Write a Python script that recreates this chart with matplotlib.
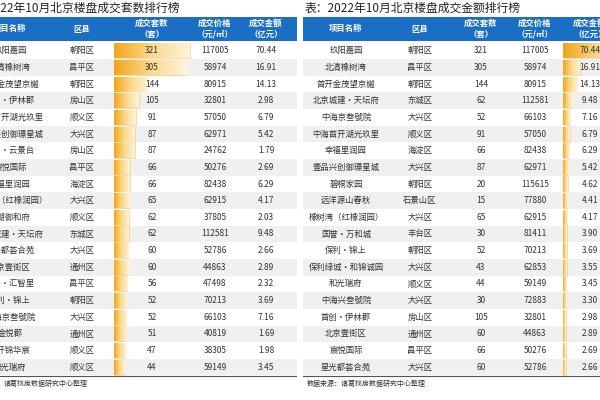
import matplotlib
matplotlib.use("Agg")
import matplotlib.pyplot as plt
import numpy as np

plt.rcParams["font.family"] = "Noto Sans CJK SC"

# Left table: ranking by units
l_names = ["玖阳嘉园", "北清橡树湾", "首开金茂望京樾", "首创·伊林郡", "中海首开湖光玖里", "壹品兴创御璟星城",
           "首创·云景台", "宸悦国际", "幸福里润园", "橡树湾（红橡润园）", "龙湖御和府", "北京城建·天坛府",
           "星光都荟合苑", "北京壹街区", "首开·汇智里", "保利·锦上", "中海京叁號院", "金悦郡", "首开锦华宸", "和光瑞府"]
l_dist = ["朝阳区", "昌平区", "朝阳区", "房山区", "顺义区", "大兴区", "房山区", "昌平区", "海淀区", "大兴区",
          "顺义区", "东城区", "大兴区", "通州区", "昌平区", "朝阳区", "大兴区", "通州区", "顺义区", "顺义区"]
l_units = [321, 305, 144, 105, 91, 87, 87, 66, 66, 65, 62, 62, 60, 60, 56, 52, 52, 51, 47, 44]
l_price = [117005, 58974, 80915, 32801, 57050, 62971, 24762, 50276, 82438, 62915, 37805, 112581,
           52786, 44863, 47498, 70213, 66103, 40819, 38305, 59149]
l_amount = [70.44, 16.91, 14.13, 2.98, 6.79, 5.42, 1.79, 2.69, 6.29, 4.17, 2.03, 9.48,
            2.66, 2.89, 2.32, 3.69, 7.16, 1.69, 1.98, 3.45]

# Right table: ranking by amount
r_names = ["玖阳嘉园", "北清橡树湾", "首开金茂望京樾", "北京城建·天坛府", "中海京叁號院", "中海首开湖光玖里",
           "幸福里润园", "壹品兴创御璟星城", "碧桐家园", "远洋源山春秋", "橡树湾（红橡润园）", "国誉·万和城",
           "保利·锦上", "保利绿城·和锦诚园", "和光瑞府", "中海兴叁號院", "首创·伊林郡", "北京壹街区",
           "宸悦国际", "星光都荟合苑"]
r_dist = ["朝阳区", "昌平区", "朝阳区", "东城区", "大兴区", "顺义区", "海淀区", "大兴区", "朝阳区", "石景山区",
          "大兴区", "丰台区", "朝阳区", "大兴区", "顺义区", "大兴区", "房山区", "通州区", "昌平区", "大兴区"]
r_units = [321, 305, 144, 62, 52, 91, 66, 87, 20, 15, 65, 30, 52, 43, 44, 30, 105, 60, 66, 60]
r_price = [117005, 58974, 80915, 112581, 66103, 57050, 82438, 62971, 115615, 77880, 62915, 81411,
           70213, 62853, 59149, 72883, 32801, 44863, 50276, 52786]
r_amount = [70.44, 16.91, 14.13, 9.48, 7.16, 6.79, 6.29, 5.42, 4.62, 4.41, 4.17, 3.90,
            3.69, 3.55, 3.45, 3.30, 2.98, 2.89, 2.69, 2.66]

headers = ["项目名称", "区县", "成交套数\n（套）", "成交价格\n（元/㎡）", "成交金额\n（亿元）"]

fig = plt.figure(figsize=(6, 4), dpi=100)
ax = fig.add_axes([0, 0, 1, 1])
ax.set_xlim(0, 600)
ax.set_ylim(400, 0)
ax.axis("off")

BLUE = "#1a6fc4"
ROW_Y0, ROW_H = 42.5, 16.65
cmap = matplotlib.colors.LinearSegmentedColormap.from_list("g", ["#f2a51a", "#fbd98c", "#fff3da"])
grad = np.linspace(0, 1, 256).reshape(1, -1)


def table(x0, x1, colx, bar_left, bar_scale, bar_col, names, dist, units, price, amount, title, source):
    clip = matplotlib.patches.Rectangle((x0, 0), x1 - x0, 400, transform=ax.transData)
    arts = []
    arts.append(ax.text(x0 + 2, 8, title, fontsize=8.5, va="center", ha="left", color="#222"))
    arts.append(ax.add_patch(matplotlib.patches.Rectangle((x0, 17), x1 - x0, 24, color=BLUE, lw=0)))
    for h, cx in zip(headers, colx):
        arts.append(ax.text(cx, 29, h, fontsize=6, color="white", ha="center", va="center",
                            weight="bold", linespacing=1.2))
    vals = units if bar_col == 2 else amount
    for i in range(len(names)):
        yc = ROW_Y0 + ROW_H * (i + 0.5)
        if i % 2 == 1:
            arts.append(ax.add_patch(matplotlib.patches.Rectangle((x0, yc - ROW_H / 2), x1 - x0, ROW_H,
                                                                  color="#f0f0f0", lw=0)))
        bars = ax.barh([yc], [vals[i] * bar_scale], left=bar_left, height=ROW_H - 1.5,
                       color="none", edgecolor="#f2c36a", lw=0.4)
        b = bars[0]
        im = ax.imshow(grad, cmap=cmap, aspect="auto",
                       extent=(bar_left, bar_left + vals[i] * bar_scale, yc + ROW_H / 2, yc - ROW_H / 2),
                       zorder=1)
        im.set_clip_path(b)
        arts += [b]
        cells = [names[i], dist[i], str(units[i]), str(price[i]), f"{amount[i]:.2f}"]
        for c, cx in zip(cells, colx):
            arts.append(ax.text(cx, yc, c, fontsize=6, color="#333", ha="center", va="center", zorder=3))
    ybot = ROW_Y0 + ROW_H * len(names)
    arts.append(ax.plot([x0, x1], [ybot, ybot], color="#555", lw=0.8)[0])
    arts.append(ax.text(x0 + 4, ybot + 8, source, fontsize=5, color="#333", va="center", ha="left"))
    for a in arts:
        a.set_clip_path(clip)
    for im in ax.images:
        pass


table(0, 297, [10, 82, 152, 215, 266], 114, 76 / 321, 2, l_names, l_dist, l_units, l_price, l_amount,
      "表：2022年10月北京楼盘成交套数排行榜"[2:], "数据来源：诸葛找房数据研究中心整理"[5:])
ax.texts[0].set_x(-13)
table(303, 600, [346, 420, 481, 535, 590], 563, 70 / 70.44 * 1.0, 4, r_names, r_dist, r_units, r_price, r_amount,
      "表：2022年10月北京楼盘成交金额排行榜", "数据来源：诸葛找房数据研究中心整理")

# clip gradient images to their panel
for im in ax.images:
    ext = im.get_extent()
    if ext[0] < 300:
        pass
ax.set_ylim(400, 0)
fig.savefig("out.png", dpi=100)
